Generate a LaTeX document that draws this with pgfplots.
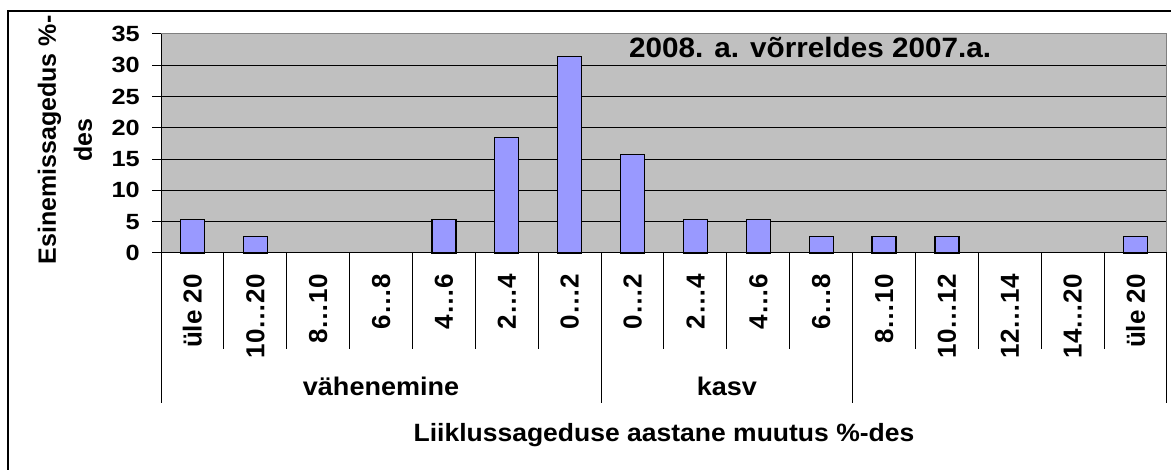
\documentclass[border=0pt]{standalone}
\usepackage{fontspec}
\setmainfont{Liberation Sans}
\newfontfamily\tickfont[FakeStretch=1.15]{Liberation Sans}
\newfontfamily\labfont[FakeStretch=1.06]{Liberation Sans}
\usepackage{pgfplots}
\pgfplotsset{compat=1.18}
\definecolor{barblue}{HTML}{9999FF}
\definecolor{plotgray}{HTML}{C0C0C0}
\definecolor{edgegray}{HTML}{808080}
\newcommand{\lf}{\fontsize{26}{36}\selectfont\bfseries}
\newcommand{\yf}{\fontsize{25}{36}\selectfont\bfseries}
\newcommand{\gf}{\labfont\fontsize{25.5}{36}\selectfont\bfseries}
\begin{document}
\begin{tikzpicture}
\begin{axis}[
  at={(161pt,217pt)}, anchor=south west,
  width=1006pt, height=219pt, scale only axis,
  clip=false,
  xmin=-0.5, xmax=15.5, ymin=0, ymax=35,
  axis background/.style={fill=plotgray},
  axis line style={edgegray, line width=1pt},
  ymajorgrids, grid style={black, line width=1pt},
  ytick={0,5,...,35},
  ytick pos=left,
  tick align=outside,
  major tick length=9pt,
  ytick style={black, line width=1pt},
  /pgf/number format/assume math mode=true,
  yticklabel style={font=\tickfont\fontsize{22}{22}\selectfont\bfseries, anchor=east, inner sep=0pt},
  yticklabel shift=12pt,
  xtick={0,...,15},
  xtick style={draw=none},
  xticklabels={üle 20,10…20,8…10,6…8,4…6,2…4,0…2,0…2,2…4,4…6,6…8,8…10,10…12,12…14,14…20,üle 20},
  xticklabel style={font=\lf, rotate=90, anchor=east, inner sep=0pt},
  xticklabel shift=12pt,
  ybar, bar width=24pt,
]
% categories 2, 3, 13 and 14 have the value 0 (no bar)
\addplot[fill=barblue, draw=black, line width=1.2pt] coordinates {
 (0,5.3) (1,2.6) (4,5.3) (5,18.4) (6,31.4) (7,15.7)
 (8,5.3) (9,5.3) (10,2.6) (11,2.6) (12,2.6) (15,2.6)};
\draw[edgegray, line width=1pt] (rel axis cs:0,1) -- (rel axis cs:1,1) -- (rel axis cs:1,0);
\draw[black, line width=1pt] (rel axis cs:0,1) -- (rel axis cs:0,0) -- (rel axis cs:1,0);
\pgfplotsinvokeforeach{0.5,1.5,2.5,3.5,4.5,5.5,7.5,8.5,9.5,11.5,12.5,13.5,14.5}{
  \draw[black, line width=1pt] (axis cs:#1,0) -- ++(0pt,-96pt);
}
\pgfplotsinvokeforeach{-0.5,6.5,10.5,15.5}{
  \draw[black, line width=1pt] (axis cs:#1,0) -- ++(0pt,-150pt);
}
\node[anchor=base west, inner sep=0pt, font=\labfont\fontsize{28}{28}\selectfont\bfseries] at (rel axis cs:0.4652,0.8904) {2008. a. võrreldes 2007.a.};
\node[anchor=base, inner sep=0pt, font=\gf] at (axis cs:3,0) [yshift=-143pt] {vähenemine};
\node[anchor=base, inner sep=0pt, font=\gf] at (axis cs:8.5,0) [yshift=-143pt] {kasv};
\node[anchor=base, inner sep=0pt, font=\labfont\fontsize{25}{30}\selectfont\bfseries] at (rel axis cs:0.5,0) [yshift=-189pt] {Liiklussageduse aastane muutus \%-des};
\end{axis}
\node[rotate=90, anchor=center, align=center, inner sep=0pt, font=\yf] at (65pt,330pt) {Esinemissagedus \%-\\des};
\draw[black, line width=1.3pt] (8pt,-20pt) -- (8pt,459pt) -- (1200pt,459pt);
\pgfresetboundingbox
\useasboundingbox (0pt,0pt) rectangle (1171pt,470pt);
\end{tikzpicture}
\end{document}
